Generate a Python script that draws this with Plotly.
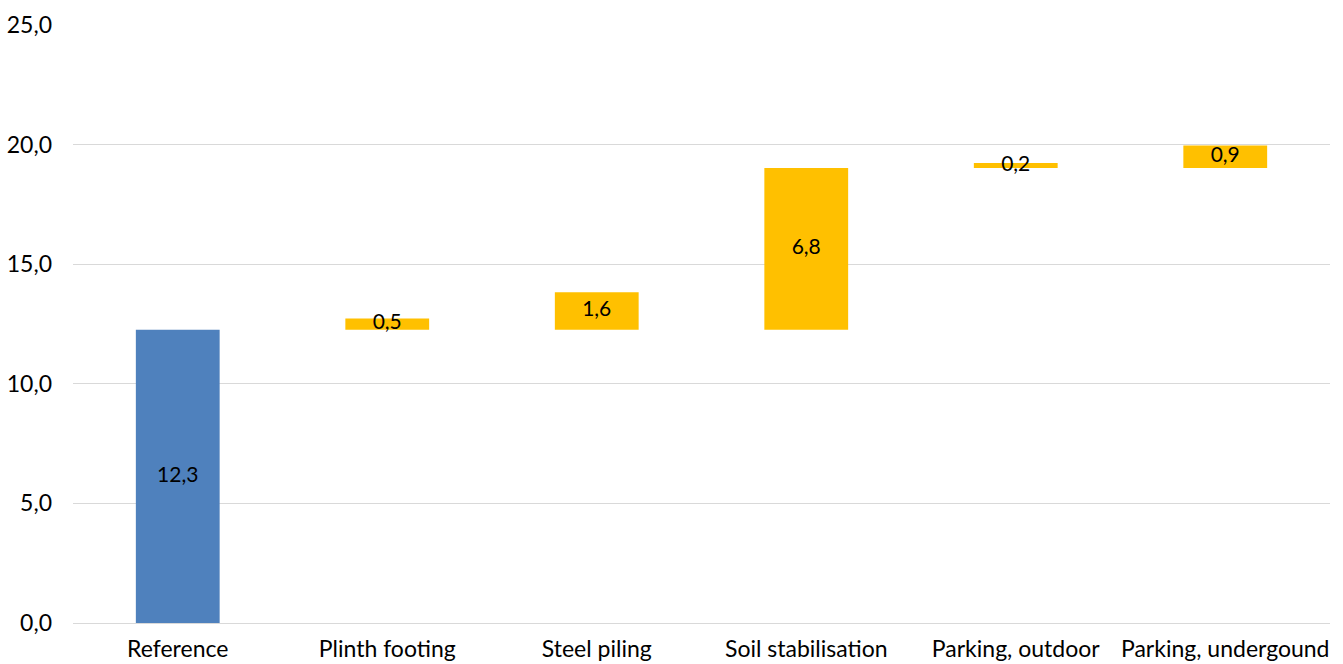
import plotly.graph_objects as go

categories = ["Reference", "Plinth footing", "Steel piling", "Soil stabilisation",
              "Parking, outdoor", "Parking, undergound"]
values = [12.26, 0.47, 1.57, 6.76, 0.21, 0.94]
# which earlier items each bar stacks on
base_from = [[], [0], [0], [0], [0, 3], [0, 3]]
colors_by_kind = {"total": "#4f81bd", "delta": "#ffc000"}
kinds = ["total", "delta", "delta", "delta", "delta", "delta"]
y_ticks = [0, 5, 10, 15, 20, 25]

bases = [sum(values[j] for j in bf) for bf in base_from]
mids = [b + v / 2 for b, v in zip(bases, values)]

FONT = "Lato"

fig = go.Figure()
fig.add_trace(go.Bar(
    x=categories, y=values, base=bases,
    marker=dict(color=[colors_by_kind[k] for k in kinds], line=dict(width=0)),
    width=0.4, hoverinfo="skip", showlegend=False,
))
fig.add_trace(go.Scatter(
    x=categories, y=mids, mode="text",
    text=[f"{v:.1f}".replace(".", ",") for v in values],
    textposition="middle center",
    textfont=dict(family=FONT, size=21, color="#000000"),
    hoverinfo="skip", showlegend=False,
))

fig.update_layout(
    width=1343, height=664,
    margin=dict(l=73, r=13, t=25, b=41, pad=0),
    paper_bgcolor="white", plot_bgcolor="white",
    separators=", ",
    font=dict(family=FONT, size=23, color="#000000"),
    bargap=0.6,
)
fig.update_xaxes(
    showgrid=False, showline=False, zeroline=False, automargin=False,
    tickfont=dict(family=FONT, size=23, color="#000000"),
    ticks="", ticklabelstandoff=10,
)
fig.update_yaxes(
    range=[0, 25], tickvals=y_ticks, tickformat=".1f", automargin=False,
    showgrid=True, gridcolor="#d9d9d9", gridwidth=1.3,
    zeroline=True, zerolinecolor="#d9d9d9", zerolinewidth=1.3,
    showline=False, ticks="",
    tickfont=dict(family=FONT, size=23, color="#000000"),
    ticklabelstandoff=20,
)

fig.write_html("out.html")
